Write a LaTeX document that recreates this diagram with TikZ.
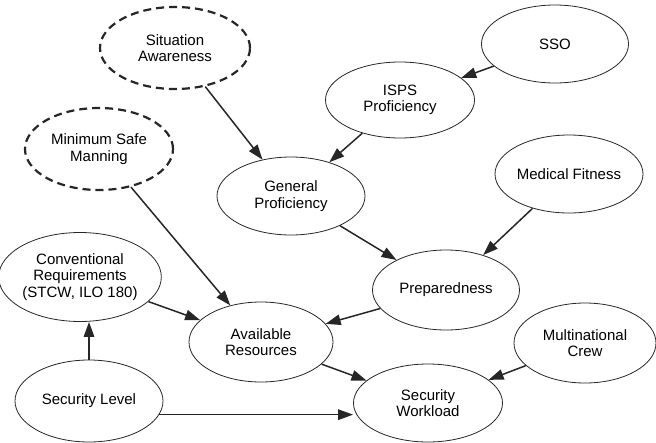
\documentclass[tikz,border=0pt]{standalone}
\usepackage{fontspec}
\setmainfont{Liberation Sans}
\usetikzlibrary{shapes.geometric,arrows.meta}
\begin{document}
\begin{tikzpicture}[x=1pt,y=-1pt,
  el/.style={ellipse,draw=black!85,line width=0.8pt,inner sep=0pt,align=center,
    font=\fontsize{15}{16.5}\selectfont,minimum width=148pt,minimum height=79pt},
  dsh/.style={el,line width=2.2pt,dash pattern=on 8pt off 5pt},
  arr/.style={draw=black!85,line width=1.5pt,-{Triangle[length=15pt,width=10.5pt]}}]
\useasboundingbox (0,0) rectangle (656,442);
\node[dsh,minimum width=150pt,minimum height=82pt] (sa) at (175,48) {Situation\\Awareness};
\node[el,minimum width=147pt,minimum height=78pt] (sso) at (555,44) {SSO};
\node[el,minimum width=149pt,minimum height=76pt] (isps) at (400,100) {ISPS\\Proficiency};
\node[dsh,minimum height=82pt] (msm) at (99,149) {Minimum Safe\\Manning};
\node[el,minimum height=78pt] (gp) at (291,196) {General\\Proficiency};
\node[el,minimum height=78pt] (mf) at (569,174) {Medical Fitness};
\node[el,minimum width=154pt,minimum height=89pt] (cr) at (80,277) {Conventional\\Requirements\\(STCW, ILO 180)};
\node[el,minimum width=147pt,minimum height=80pt] (prep) at (446,290) {Preparedness};
\node[el,minimum width=144pt,minimum height=80pt] (ar) at (261,342) {Available\\Resources};
\node[el,minimum width=142pt,minimum height=80pt] (mc) at (585,343) {Multinational\\Crew};
\node[el,minimum height=82pt] (sl) at (89,401) {Security Level};
\node[el,minimum width=149pt,minimum height=78pt] (sw) at (428,403) {Security\\Workload};
\draw[arr] (sa) -- (gp);
\draw[arr] (sso) -- (isps);
\draw[arr] (isps) -- (gp);
\draw[arr] (gp) -- (prep);
\draw[arr] (mf) -- (prep);
\draw[arr] (msm) -- (ar);
\draw[arr] (cr) -- (ar);
\draw[arr] (prep) -- (ar);
\draw[arr] (sl.north) -- (sl.north |- cr.south);
\draw[arr] (ar) -- (sw);
\draw[arr] (sl.-11) -- (sw.west |- sl.-11);
\draw[arr] (mc) -- (sw);
\end{tikzpicture}
\end{document}
